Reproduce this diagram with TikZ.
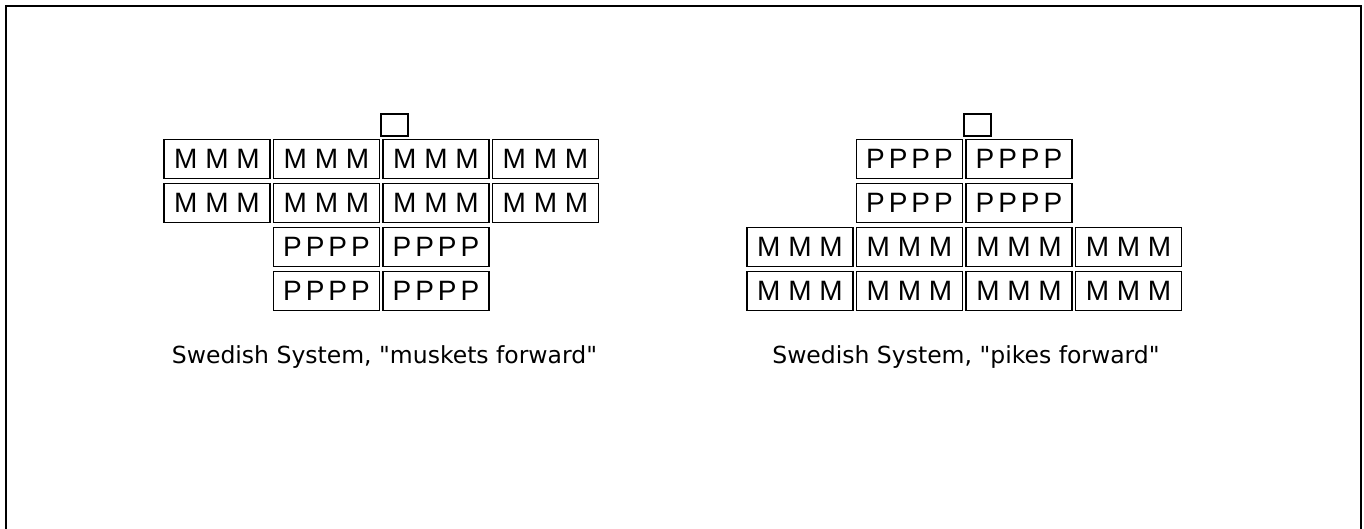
\documentclass[tikz,border=0pt]{standalone}
\usepackage{fontspec}
\setmainfont{Liberation Sans}
\newfontfamily\capfont{DejaVu Sans}
\newcommand{\shot}{M M M}
\newcommand{\pikes}{P\kern4pt P\kern4pt P\kern4pt P}
\tikzset{
  unit/.style={draw, line width=1.5pt, minimum width=106pt, minimum height=39pt, inner sep=0pt, font=\fontsize{28}{30}\selectfont},
  flag/.style={draw, line width=1.5pt, minimum width=27pt, minimum height=22pt, inner sep=0pt},
  legend/.style={font=\capfont\fontsize{23.5}{26}\selectfont}
}
\begin{document}
\begin{tikzpicture}[x=1pt,y=-1pt]
  \useasboundingbox (0,0) rectangle (1364,529);
  % Frame
  \draw[line width=2.5pt] (6,529) -- (6,6) -- (1361,6) -- (1361,529);

  % Muskets forward
  \node[flag] (mf-flag) at (394.5,125) {};
  \node[unit] (mf-m1) at (217,159) {\shot};
  \node[unit] (mf-m2) at (326.5,159) {\shot};
  \node[unit] (mf-m3) at (436,159) {\shot};
  \node[unit] (mf-m4) at (545.5,159) {\shot};
  \node[unit] (mf-m5) at (217,203) {\shot};
  \node[unit] (mf-m6) at (326.5,203) {\shot};
  \node[unit] (mf-m7) at (436,203) {\shot};
  \node[unit] (mf-m8) at (545.5,203) {\shot};
  \node[unit] (mf-p1) at (326.5,247) {\pikes};
  \node[unit] (mf-p2) at (436,247) {\pikes};
  \node[unit] (mf-p3) at (326.5,291) {\pikes};
  \node[unit] (mf-p4) at (436,291) {\pikes};
  \node[legend] (mf-cap) at (384.5,357.5) {Swedish System, "muskets forward"};

  % Pikes forward
  \begin{scope}[xshift=583pt]
    \node[flag] (pf-flag) at (394.5,125) {};
    \node[unit] (pf-p1) at (326.5,159) {\pikes};
    \node[unit] (pf-p2) at (436,159) {\pikes};
    \node[unit] (pf-p3) at (326.5,203) {\pikes};
    \node[unit] (pf-p4) at (436,203) {\pikes};
    \node[unit] (pf-m1) at (217,247) {\shot};
    \node[unit] (pf-m2) at (326.5,247) {\shot};
    \node[unit] (pf-m3) at (436,247) {\shot};
    \node[unit] (pf-m4) at (545.5,247) {\shot};
    \node[unit] (pf-m5) at (217,291) {\shot};
    \node[unit] (pf-m6) at (326.5,291) {\shot};
    \node[unit] (pf-m7) at (436,291) {\shot};
    \node[unit] (pf-m8) at (545.5,291) {\shot};
    \node[legend] (pf-cap) at (383,357.5) {Swedish System, "pikes forward"};
  \end{scope}
\end{tikzpicture}
\end{document}
